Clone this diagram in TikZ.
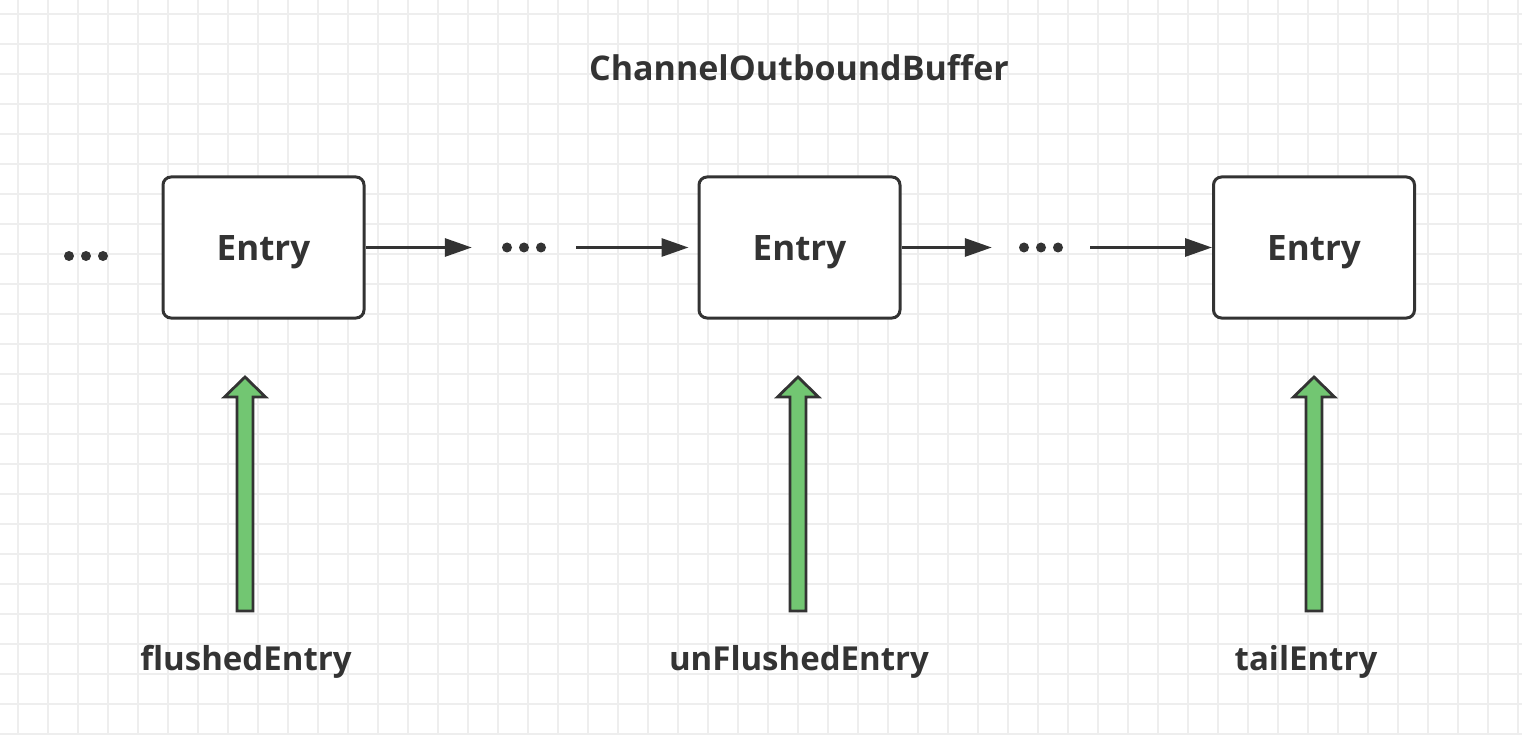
\documentclass[tikz,border=0pt]{standalone}
\usepackage{fontspec}
\setmainfont{Open Sans}
\usetikzlibrary{arrows.meta,calc}
\definecolor{ink}{HTML}{333333}
\definecolor{gridc}{HTML}{EEEEEE}
\definecolor{arrowgreen}{HTML}{72C672}
\tikzset{
  entrybox/.style={draw=ink, line width=3pt, rounded corners=8pt, fill=white,
    minimum width=201pt, minimum height=141pt, inner sep=0pt,
    text height=25pt, text depth=0pt,
    text=ink, font=\fontsize{35}{42}\selectfont\bfseries},
  lbl/.style={text=ink, inner sep=0pt, anchor=base, font=\fontsize{33}{40}\selectfont\bfseries},
  titlelbl/.style={text=ink, inner sep=0pt, anchor=base, font=\fontsize{34}{40}\selectfont\bfseries},
  dotsgap/.style={minimum height=12pt, inner sep=0pt},
  conn/.style={draw=ink, line width=3pt, -{Triangle[length=27pt,width=18pt]}},
  dotc/.style={fill=ink},
  blockarrow/.style={draw=ink, line width=2.8pt, line join=miter, fill=arrowgreen}
}
\newcommand{\threedots}[1]{%
  \fill[dotc] ($(#1)+(-17,0)$) circle (5pt);
  \fill[dotc] (#1) circle (5pt);
  \fill[dotc] ($(#1)+(17,0)$) circle (5pt);}
\newcommand{\greenarrow}[2]{% tip, bottom
  \draw[blockarrow] (#1) -- ($(#1)+(20.5,20)$) -- ($(#1)+(8,20)$) --
    ($(#2)+(8,0)$) -- ($(#2)+(-8,0)$) -- ($(#1)+(-8,20)$) -- ($(#1)+(-20.5,20)$) -- cycle;}
\begin{document}
\begin{tikzpicture}[x=1pt,y=-1pt]
\useasboundingbox (0,0) rectangle (1522,735);
\fill[white] (0,0) rectangle (1522,735);
\foreach \i in {0,...,50} { \draw[gridc, line width=1.2pt] ({18+30*\i},0) -- ({18+30*\i},735); }
\foreach \j in {0,...,24} { \draw[gridc, line width=1.2pt] (0,{14+30*\j}) -- (1522,{14+30*\j}); }

\node[titlelbl] (title) at (799,81) {ChannelOutboundBuffer};

\node[entrybox] (e1) at (263.5,247.5) {Entry};
\node[entrybox] (e2) at (799.5,247.5) {Entry};
\node[entrybox] (e3) at (1314,247.5) {Entry};

\coordinate (d0) at (86,256);
\node[dotsgap, minimum width=104pt] (d1) at (524,247.5) {};
\node[dotsgap, minimum width=98pt] (d2) at (1041,247.5) {};
\threedots{d0}
\threedots{d1}
\threedots{d2}

\draw[conn] (e1.east) -- (d1.west);
\draw[conn] (d1.east) -- ([xshift=-9pt]e2.west);
\draw[conn] (e2.east) -- (d2.west);
\draw[conn] (d2.east) -- (e3.west);

\node[lbl] (l1) at (246,670) {flushedEntry};
\node[lbl] (l2) at (799,670) {unFlushedEntry};
\node[lbl] (l3) at (1306,670) {tailEntry};

\coordinate (t1) at (245,377);
\coordinate (b1) at (245,611);
\coordinate (t2) at (798,377);
\coordinate (b2) at (798,611);
\coordinate (t3) at (1314,377);
\coordinate (b3) at (1314,611);
\greenarrow{t1}{b1}
\greenarrow{t2}{b2}
\greenarrow{t3}{b3}
\end{tikzpicture}
\end{document}
